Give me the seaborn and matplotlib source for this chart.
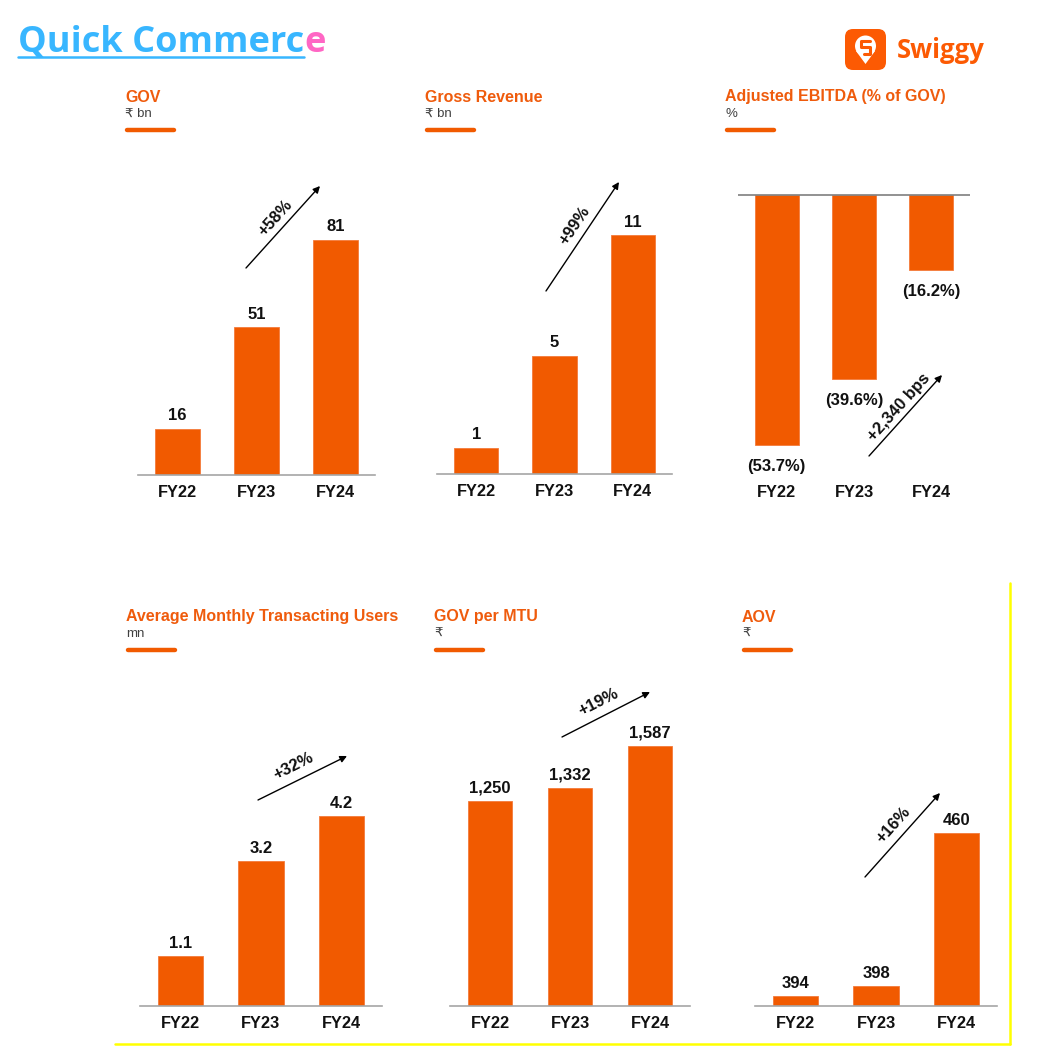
import matplotlib
matplotlib.use("Agg")
import matplotlib.pyplot as plt
import seaborn as sns
from matplotlib.patches import FancyBboxPatch, Circle, Polygon

# data
years = ["FY22", "FY23", "FY24"]
gov = [16, 51, 81]                      # ₹ bn
gross_revenue = [1.2, 5.4, 10.9]        # ₹ bn
ebitda_pct = [-53.7, -39.6, -16.2]      # % of GOV
mtu = [1.1, 3.2, 4.2]                   # mn
gov_per_mtu = [1250, 1332, 1587]        # ₹
aov = [394, 398, 460]                   # ₹

titles = ["GOV", "Gross Revenue", "Adjusted EBITDA (% of GOV)",
          "Average Monthly Transacting Users", "GOV per MTU", "AOV"]
units = ["₹ bn", "₹ bn", "%", "mn", "₹", "₹"]
growth = ["+58%", "+99%", "+2,340 bps", "+32%", "+19%", "+16%"]

W, H = 1051, 1052
ORANGE = "#F15A00"
TXT_ORANGE = "#EF5B0C"

sns.set_style("white")
plt.rcParams["font.family"] = ["Liberation Sans", "DejaVu Sans"]

fig = plt.figure(figsize=(W / 100, H / 100), dpi=100)


def px_axes(left, top, right, bottom):
    return fig.add_axes([left / W, 1 - bottom / H, (right - left) / W, (bottom - top) / H])


def bar_panel(rect, values, labels, ylim, width, pad=4, zero_line=False):
    ax = px_axes(*rect)
    ax.set_facecolor("none")
    sns.barplot(x=years, y=values, ax=ax, color=ORANGE, saturation=1,
                width=width, edgecolor="#F47A3A", linewidth=0.6)
    ax.set_xlim(-0.5, 2.5)
    ax.set_ylim(*ylim)
    ax.set_yticks([])
    ax.set_xlabel("")
    ax.set_ylabel("")
    for s in ["left", "right", "top"]:
        ax.spines[s].set_visible(False)
    if zero_line:
        ax.spines["bottom"].set_visible(False)
        ax.axhline(0, color="#7F7F7F", lw=1.2)
    else:
        ax.spines["bottom"].set_color("#A6A6A6")
        ax.spines["bottom"].set_linewidth(1.2)
    ax.tick_params(axis="x", length=0, pad=7, labelsize=11.8)
    for t in ax.get_xticklabels():
        t.set_fontweight("bold")
        t.set_color("#111111")
    ax.bar_label(ax.containers[0], labels=labels, padding=pad,
                 fontsize=12, fontweight="bold", color="#111111")
    return ax


bar_panel((138, 160, 375, 475), gov, [f"{v:.0f}" for v in gov], (0, 108.6), 0.57)
bar_panel((437, 160, 672, 474), gross_revenue, [f"{v:.0f}" for v in gross_revenue],
          (0, 14.34), 0.57)
bar_panel((738, 160, 970, 475), ebitda_pct, [f"({abs(v):.1f}%)" for v in ebitda_pct],
          (-60.1, 7.5), 0.57, pad=10, zero_line=True)
bar_panel((140, 680, 382, 1006), mtu, [f"{v:.1f}" for v in mtu], (0, 7.21), 0.56)
bar_panel((450, 680, 690, 1006), gov_per_mtu, [f"{v:,.0f}" for v in gov_per_mtu],
          (0, 1988), 0.56)
bar_panel((755, 680, 997, 1006), aov, [f"{v:.0f}" for v in aov], (390, 522), 0.56)

# decoration layer in pixel coordinates
deco = fig.add_axes([0, 0, 1, 1])
deco.set_xlim(0, W)
deco.set_ylim(H, 0)
deco.axis("off")
deco.patch.set_alpha(0)

# panel headings
heads = [(125, 97), (425, 97), (725, 97), (126, 617), (434, 617), (742, 617)]
for (hx, hy), ttl, un in zip(heads, titles, units):
    deco.text(hx, hy, ttl, color=TXT_ORANGE, fontsize=11.5, fontweight="bold",
              ha="left", va="center")
    deco.text(hx, hy + 17, un, color="#404040", fontsize=9.5, ha="left", va="center")
    deco.plot([hx + 2, hx + 49], [hy + 33, hy + 33], color=ORANGE, lw=3.2,
              solid_capstyle="round")

# growth arrows
arrows = [((246, 268), (320, 186), (275, 218), 48),
          ((546, 291), (619, 182), (575, 226), 56),
          ((869, 456), (942, 375), (899, 407), 48),
          ((258, 800), (347, 756), (293, 766), 27),
          ((562, 737), (650, 692), (598, 702), 27),
          ((865, 877), (940, 793), (893, 825), 48)]
for (start, end, tpos, rot), g in zip(arrows, growth):
    deco.annotate("", xy=end, xytext=start,
                  arrowprops=dict(arrowstyle="-|>", color="black", lw=1,
                                  mutation_scale=10, shrinkA=0, shrinkB=0))
    deco.text(tpos[0], tpos[1], g, rotation=rot, rotation_mode="anchor",
              ha="center", va="center", fontsize=12, fontweight="bold", color="#111111")

# yellow frame
deco.plot([1010, 1010], [583, 1044], color="#FFFF00", lw=1.8)
deco.plot([115, 1010], [1044, 1044], color="#FFFF00", lw=1.8)

# page title
t1 = deco.text(18, 52, "Quick Commerc", color="#38B6FF", fontsize=26,
               fontweight="bold", family=["Open Sans", "DejaVu Sans"], ha="left",
               va="baseline")
deco.annotate("e", xy=(1, 0), xycoords=t1, color="#FF66C4", fontsize=26,
              fontweight="bold", family=["Open Sans", "DejaVu Sans"], ha="left",
              va="bottom")
fig.canvas.draw()
bb = t1.get_window_extent()
x0 = deco.transData.inverted().transform((bb.x0, 0))[0]
x1 = deco.transData.inverted().transform((bb.x1, 0))[0]
deco.plot([x0, x1], [57, 57], color="#38B6FF", lw=1.8)

# Swiggy logo
deco.add_patch(FancyBboxPatch((848, 32), 35, 35, boxstyle="round,pad=3,rounding_size=8",
                              fc="#FC5A03", ec="none"))
deco.add_patch(Circle((865.5, 46), 10.5, fc="white", ec="none"))
deco.add_patch(Polygon([(856, 51), (875, 51), (865.5, 64)], closed=True, fc="white", ec="none"))
deco.plot([870, 861, 861, 870, 870, 864], [41, 41, 47, 47, 54, 54], color="#FC5A03",
          lw=2.2, solid_joinstyle="round")
deco.text(897, 50, "Swiggy", color="#FC5A03", fontsize=18.5, fontweight="bold",
          family=["Open Sans", "DejaVu Sans"], ha="left", va="center")

fig.savefig("out.png", dpi=100)
